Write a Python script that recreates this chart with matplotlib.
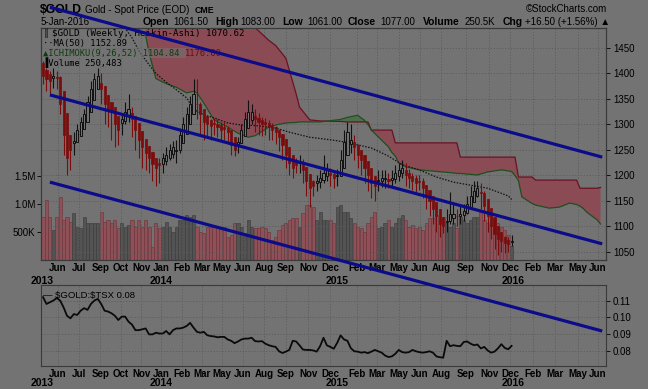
import numpy as np
import matplotlib.pyplot as plt
from matplotlib.lines import Line2D

plt.rcParams['font.family'] = ['Liberation Sans', 'DejaVu Sans']

# weekly Heikin-Ashi bars of $GOLD, week 0 = mid May 2013, week 137 = 5-Jan-2016
ha_open_first = 1420
ha_close = [1395, 1390, 1385, 1395, 1392, 1340, 1280, 1235, 1250, 1268,
            1290, 1305, 1320, 1345, 1370, 1390, 1395, 1370, 1340, 1330,
            1325, 1300, 1290, 1310, 1325, 1330, 1310, 1290, 1270, 1255,
            1245, 1235, 1222, 1215, 1220, 1235, 1240, 1250, 1255, 1250,
            1280, 1300, 1320, 1340, 1360, 1340, 1320, 1305, 1300, 1298,
            1300, 1296, 1290, 1292, 1285, 1260, 1250, 1265, 1290, 1310,
            1325, 1325, 1310, 1305, 1300, 1300, 1295, 1290, 1285, 1275,
            1260, 1240, 1225, 1215, 1220, 1225, 1210, 1190, 1175, 1180,
            1190, 1195, 1205, 1210, 1200, 1195, 1200, 1230, 1265, 1285,
            1270, 1255, 1240, 1230, 1215, 1200, 1185, 1180, 1190, 1195,
            1195, 1190, 1195, 1205, 1210, 1215, 1200, 1195, 1190, 1185,
            1188, 1175, 1160, 1150, 1135, 1120, 1105, 1100, 1110, 1125,
            1125, 1120, 1125, 1130, 1145, 1160, 1170, 1175, 1165, 1140,
            1120, 1100, 1085, 1075, 1072, 1068, 1065, 1070.62]
ha_high = [1425, 1410, 1405, 1410, 1405, 1395, 1360, 1300, 1265, 1285,
           1300, 1315, 1330, 1355, 1385, 1400, 1410, 1400, 1375, 1350,
           1340, 1320, 1305, 1320, 1345, 1360, 1335, 1310, 1295, 1275,
           1260, 1250, 1240, 1230, 1235, 1245, 1255, 1262, 1268, 1270,
           1290, 1315, 1335, 1355, 1390, 1390, 1345, 1325, 1315, 1310,
           1312, 1310, 1305, 1305, 1298, 1290, 1268, 1275, 1300, 1325,
           1348, 1340, 1330, 1322, 1315, 1312, 1308, 1302, 1298, 1292,
           1280, 1262, 1245, 1232, 1235, 1240, 1232, 1215, 1200, 1192,
           1200, 1210, 1240, 1225, 1215, 1208, 1212, 1250, 1290, 1305,
           1300, 1280, 1262, 1250, 1235, 1220, 1205, 1195, 1210, 1210,
           1210, 1205, 1210, 1220, 1225, 1230, 1225, 1212, 1205, 1200,
           1200, 1195, 1182, 1168, 1155, 1140, 1125, 1115, 1135, 1168,
           1145, 1135, 1140, 1145, 1160, 1180, 1190, 1190, 1185, 1170,
           1145, 1122, 1105, 1092, 1088, 1082, 1080, 1083]
ha_low = [1380, 1365, 1360, 1372, 1370, 1320, 1240, 1200, 1211, 1240,
          1265, 1285, 1300, 1320, 1345, 1365, 1375, 1340, 1300, 1295,
          1270, 1255, 1260, 1280, 1300, 1305, 1275, 1250, 1235, 1215,
          1210, 1205, 1190, 1180, 1185, 1205, 1220, 1230, 1235, 1225,
          1245, 1275, 1295, 1318, 1330, 1310, 1280, 1270, 1275, 1270,
          1280, 1275, 1268, 1270, 1262, 1240, 1238, 1245, 1265, 1290,
          1305, 1300, 1285, 1280, 1278, 1280, 1270, 1270, 1262, 1248,
          1230, 1215, 1200, 1195, 1205, 1205, 1185, 1160, 1138, 1160,
          1170, 1175, 1185, 1190, 1180, 1175, 1180, 1200, 1240, 1260,
          1245, 1230, 1215, 1200, 1185, 1170, 1155, 1150, 1170, 1178,
          1175, 1175, 1178, 1185, 1190, 1195, 1180, 1175, 1172, 1168,
          1172, 1155, 1135, 1120, 1105, 1090, 1080, 1087, 1090, 1105,
          1105, 1100, 1105, 1110, 1125, 1140, 1150, 1158, 1135, 1110,
          1090, 1075, 1055, 1045, 1050, 1048, 1050, 1061]
volume_k = [774, 1071, 774, 536, 774, 1131, 714, 774, 685, 833,
            595, 565, 774, 655, 667, 655, 655, 863, 685, 714,
            655, 714, 565, 655, 595, 625, 714, 595, 714, 595,
            714, 595, 238, 655, 565, 595, 685, 595, 506, 595,
            714, 714, 804, 774, 804, 595, 506, 476, 595, 595,
            595, 565, 595, 595, 417, 446, 655, 655, 595, 476,
            714, 595, 565, 565, 595, 565, 506, 357, 417, 536,
            625, 655, 714, 744, 744, 595, 833, 982, 982, 952,
            714, 863, 714, 714, 714, 655, 952, 982, 863, 863,
            744, 655, 595, 565, 506, 655, 774, 863, 565, 595,
            655, 714, 595, 655, 744, 804, 714, 595, 625, 565,
            595, 536, 655, 744, 744, 804, 714, 774, 655, 595,
            655, 565, 774, 714, 655, 714, 774, 774, 863, 714,
            655, 625, 744, 655, 595, 536, 446, 250]

# 50-week moving average (dotted)
ma_wk = [22, 24, 26, 28, 30, 33, 36, 39, 42, 44, 47, 50, 54, 58, 62, 66,
         68, 72, 78, 84, 88, 92, 96, 101, 105, 110, 115, 120, 125, 130,
         136, 137]
ma50 = [1510, 1489, 1470, 1445, 1426, 1400, 1383, 1368, 1352, 1330, 1319,
        1313, 1303, 1299, 1298, 1295, 1293, 1285, 1275, 1270, 1266, 1260,
        1254, 1238, 1221, 1211, 1197, 1187, 1181, 1175, 1160, 1153]

# Ichimoku cloud spans (shifted 26 weeks ahead)
span_wk = [30, 31, 33, 36, 39, 42, 44, 45, 47, 50, 54, 57, 60, 62, 66, 68,
           71, 74, 75, 78, 81, 87, 89, 92, 94, 95, 96, 101, 102, 103, 104,
           106, 110, 120, 121, 122, 127, 130, 134, 137, 138, 139, 140, 143,
           144, 148, 151, 154, 156, 157, 158, 159, 162, 163]
span_a = [1475, 1440, 1390, 1380, 1373, 1362, 1365, 1362, 1342, 1309, 1295,
          1283, 1275, 1278, 1295, 1299, 1303, 1304, 1305, 1305, 1305, 1310,
          1314, 1318, 1308, 1300, 1289, 1256, 1245, 1238, 1225, 1217, 1211,
          1205, 1204, 1204, 1201, 1207, 1211, 1208, 1200, 1190, 1158, 1145,
          1142, 1136, 1138, 1146, 1143, 1140, 1135, 1128, 1113, 1104.84]
span_b = [1500, 1500, 1500, 1500, 1500, 1500, 1500, 1500, 1500, 1500, 1500,
          1500, 1500, 1490, 1465, 1455, 1430, 1360, 1334, 1309, 1307, 1306,
          1305, 1305, 1305, 1305, 1289, 1289, 1289, 1264, 1264, 1264, 1264,
          1264, 1264, 1236, 1236, 1236, 1236, 1236, 1236, 1197, 1197, 1197,
          1191, 1191, 1191, 1191, 1191, 1175, 1175, 1175, 1175, 1176.6]

# $GOLD:$TSX ratio, weekly
ratio = [0.112, 0.108, 0.109, 0.110, 0.1115, 0.110, 0.106, 0.101, 0.0995, 0.102,
         0.1015, 0.104, 0.1055, 0.1045, 0.108, 0.110, 0.111, 0.108, 0.104, 0.1035,
         0.1025, 0.101, 0.0985, 0.1005, 0.1005, 0.0975, 0.0958, 0.0925, 0.0925, 0.093,
         0.0935, 0.090, 0.090, 0.091, 0.0905, 0.0905, 0.092, 0.090, 0.0925, 0.0935,
         0.0935, 0.094, 0.095, 0.0968, 0.094, 0.0915, 0.091, 0.0915, 0.0895, 0.089,
         0.0888, 0.0883, 0.0885, 0.0885, 0.087, 0.0862, 0.0848, 0.0858, 0.087, 0.0875,
         0.0875, 0.088, 0.086, 0.0858, 0.086, 0.0845, 0.0836, 0.083, 0.0826, 0.080,
         0.079, 0.0798, 0.0808, 0.0862, 0.0858, 0.0835, 0.081, 0.0808, 0.0808, 0.0805,
         0.0798, 0.083, 0.088, 0.0835, 0.0826, 0.0815, 0.085, 0.0894, 0.087, 0.0862,
         0.0818, 0.080, 0.0798, 0.0792, 0.0795, 0.0789, 0.0798, 0.0808, 0.080, 0.0792,
         0.0775, 0.0766, 0.077, 0.0785, 0.0808, 0.0795, 0.0792, 0.0795, 0.0808, 0.080,
         0.0795, 0.0792, 0.0795, 0.080, 0.0792, 0.077, 0.0765, 0.0762, 0.0862, 0.083,
         0.0836, 0.0832, 0.083, 0.0855, 0.0858, 0.0845, 0.0836, 0.084, 0.0817, 0.0826,
         0.0805, 0.0792, 0.0798, 0.0817, 0.0842, 0.082, 0.0812, 0.0832]

# hand drawn channel (week, price) end points
trend_wk = [2, 163.5]
trend_upper = [1530, 1236]
trend_middle = [1358, 1066]
trend_lower = [1187, 895]

month_labels = ['Jun', 'Jul', 'Sep', 'Oct', 'Nov', 'Jan', 'Feb', 'Mar', 'May',
                'Jun', 'Aug', 'Sep', 'Nov', 'Dec', 'Feb', 'Mar', 'May', 'Jun',
                'Aug', 'Sep', 'Nov', 'Dec', 'Feb', 'Mar', 'May', 'Jun']
month_wk = [4.4, 10.5, 16.7, 22.8, 28.7, 34.5, 40.6, 46.5, 52.3, 58.5, 64.6,
            71, 77.5, 84, 91.8, 97.7, 104, 110.2, 116.4, 123.7, 130.4, 136.5,
            143.3, 149.7, 156.4, 162.3]
year_labels = ['2013', '2014', '2015', '2016']
year_wk = [-0.3, 34.5, 86, 137.4]

price_ticks = [1050, 1100, 1150, 1200, 1250, 1300, 1350, 1400, 1450]
vol_ticks = [500e3, 1.0e6, 1.5e6]
vol_labels = ['500K', '1.0M', '1.5M']
ratio_ticks = [0.08, 0.09, 0.10, 0.11]
ratio_labels = ['0.08', '0.09', '0.10', '0.11']

quote = ['Open', '1061.50', 'High', '1083.00', 'Low', '1061.00', 'Close',
         '1077.00', 'Volume', '250.5K', 'Chg', '+16.50 (+1.56%) \u25b2']
quote_x = [143, 173, 215, 240, 282, 307, 348, 380, 423, 465, 503, 525]

# colours (dimmed StockCharts look)
BG = '#737373'
GRID = '#5c5c5c'
RED = '#7a0c0c'
VOL_RED = '#8f5157'
VOL_GRAY = '#535353'
CLOUD = '#8a4b55'
CLOUD_G = '#4d6e4d'
SPAN_A = '#1d501d'
SPAN_B = '#6b1222'
BLUE = '#0c0c8a'

c = np.array(ha_close, float)
o = np.empty_like(c)
o[0] = ha_open_first
for i in range(1, len(c)):
    o[i] = (o[i - 1] + c[i - 1]) / 2
hi = np.maximum(np.array(ha_high, float), np.maximum(o, c))
lo = np.minimum(np.array(ha_low, float), np.minimum(o, c))
wk = np.arange(len(c))
up = c >= o

W, H = 648, 389
fig = plt.figure(figsize=(W / 100, H / 100), dpi=100, facecolor=BG)


def box(l, t, r, b):
    return [l / W, 1 - b / H, (r - l) / W, (b - t) / H]


xlim = (-0.6, 164.6)

# lower panel first so the channel lines can cross over it
ax2 = fig.add_axes(box(41, 285, 606, 366), facecolor=BG)
# main panel: volume axis behind, price axis on top
axv = fig.add_axes(box(41, 28, 606, 260), facecolor=BG)
axp = axv.twinx()
axp.patch.set_visible(False)

# volume
axv.bar(wk, np.array(volume_k) * 1e3, width=0.92,
        color=np.where(up, VOL_GRAY, VOL_RED),
        edgecolor=np.where(up, '#3a3a3a', '#6e3038'), linewidth=0.4)
axv.set_ylim(0, 4143e3)
axv.set_xlim(*xlim)
axv.set_yticks(vol_ticks)
axv.set_yticklabels(vol_labels)
axv.tick_params(axis='y', left=True, labelleft=True, length=3, pad=1,
                labelsize=7, width=0.6)

# grid
axp.set_xlim(*xlim)
axp.set_ylim(1034.3, 1489.2)
for t in price_ticks:
    axp.axhline(t, color=GRID, lw=0.6, ls=(0, (1.5, 2)), zorder=0.5)
for t in month_wk:
    axp.axvline(t, color=GRID, lw=0.6, ls=(0, (1.5, 2)), zorder=0.5)

# ichimoku cloud
sw = np.array(span_wk, float)
sa = np.array(span_a, float)
sb = np.array(span_b, float)
axp.fill_between(sw, sa, sb, where=sb >= sa, interpolate=True,
                 color=CLOUD, lw=0, zorder=1)
axp.fill_between(sw, sa, sb, where=sa > sb, interpolate=True,
                 color=CLOUD_G, lw=0, zorder=1)
axp.plot(sw, sb, color=SPAN_B, lw=0.9, zorder=1.2)
axp.plot(sw, sa, color=SPAN_A, lw=0.9, zorder=1.2)

# moving average
axp.plot(ma_wk, ma50, color='#111111', lw=0.9, ls=(0, (1.2, 1.2)), zorder=2)

# heikin-ashi candles
axp.vlines(wk, lo, hi, colors=np.where(up, '#111111', RED), lw=0.8, zorder=3)
body_lo = np.minimum(o, c)
body_h = np.maximum(np.abs(c - o), 0.8)
axp.bar(wk[up], body_h[up], bottom=body_lo[up], width=0.62,
        color=BG, edgecolor='#111111', linewidth=0.7, zorder=4)
axp.bar(wk[~up], body_h[~up], bottom=body_lo[~up], width=0.62,
        color=RED, edgecolor=RED, linewidth=0.5, zorder=4)

axp.set_yticks(price_ticks)
axp.tick_params(axis='y', right=True, labelright=True, length=3, pad=2,
                labelsize=7, width=0.6)

for a in (axv, axp, ax2):
    a.set_xticks(month_wk)
    a.set_xticklabels(month_labels, fontsize=7, fontweight='bold')
    a.tick_params(axis='x', length=0, pad=2)
    for s in a.spines.values():
        s.set_color('#3a3a3a')
        s.set_linewidth(0.8)
axp.tick_params(axis='x', labelbottom=False)

for lab, w in zip(year_labels, year_wk):
    axv.text(w, -16 / 232, lab, transform=axv.get_xaxis_transform(),
             ha='center', va='top', fontsize=7.5, fontweight='bold')
    ax2.text(w, -12 / 81, lab, transform=ax2.get_xaxis_transform(),
             ha='center', va='top', fontsize=7.5, fontweight='bold')

# lower panel: ratio
ax2.plot(wk, ratio, color='#0a0a0a', lw=1.3)
ax2.set_xlim(*xlim)
ax2.set_ylim(0.0713, 0.1192)
ax2.yaxis.tick_right()
ax2.set_yticks(ratio_ticks)
ax2.set_yticklabels(ratio_labels)
ax2.tick_params(axis='y', length=3, pad=2, labelsize=7, width=0.6)
for t in ratio_ticks:
    ax2.axhline(t, color=GRID, lw=0.6, ls=(0, (1.5, 2)), zorder=0.5)
for t in month_wk:
    ax2.axvline(t, color=GRID, lw=0.6, ls=(0, (1.5, 2)), zorder=0.5)
ax2.text(0.004, 0.93, '\u2014 \\$GOLD:\\$TSX 0.08', transform=ax2.transAxes,
         fontsize=6.8, va='top', ha='left')

# legend in main panel
mono = 'DejaVu Sans Mono'
axp.text(0.004, 0.978, '\u2551', transform=axp.transAxes, fontsize=6,
         family=mono, va='center', zorder=10)
axp.text(0.02, 0.978, '$GOLD (Weekly, Heikin-Ashi) 1070.62',
         transform=axp.transAxes, fontsize=6.6, family=mono, va='center',
         ha='left', zorder=10)
axp.text(0.004, 0.935, '\u00b7\u00b7MA(50) 1152.89', transform=axp.transAxes,
         fontsize=6.3, family=mono, va='center', zorder=10)
t1 = axp.text(0.004, 0.892, '\u25b2ICHIMOKU(9,26,52) 1104.84 ',
              transform=axp.transAxes, fontsize=6.3, family=mono,
              color='#0d3d0d', va='center', zorder=10,
              bbox=dict(boxstyle='square,pad=0.1', fc=BG, ec='none', alpha=0.6))
axp.annotate('1176.60', xycoords=t1, xy=(1, 0.5), va='center', ha='left',
             fontsize=6.3, family=mono, color='#6a0c0c', zorder=10)
axp.text(0.004, 0.85, '\u2590Volume 250,483', transform=axp.transAxes,
         fontsize=6.3, family=mono, va='center', zorder=10)

# header
fig.text(40 / W, 1 - 10 / H, '$GOLD', fontsize=8.8, fontweight='bold',
         va='center', ha='left')
fig.text(85 / W, 1 - 10 / H, 'Gold - Spot Price (EOD)', fontsize=7,
         va='center', ha='left')
fig.text(195 / W, 1 - 10.5 / H, 'CME', fontsize=6.3, fontweight='bold',
         va='center', ha='left')
fig.text(41 / W, 1 - 22 / H, '5-Jan-2016', fontsize=7, va='center', ha='left')
fig.text(607 / W, 1 - 9 / H, '\u00a9StockCharts.com', fontsize=7,
         va='center', ha='right')
for k, (txt, px) in enumerate(zip(quote, quote_x)):
    bold = k % 2 == 0
    fig.text(px / W, 1 - 25 / H, txt, ha='left', va='baseline',
             fontsize=7.5 if bold else 7,
             fontweight='bold' if bold else 'normal')

# channel lines drawn across both panels
for prices in (trend_upper, trend_middle, trend_lower):
    fig.add_artist(Line2D(trend_wk, prices, transform=axp.transData,
                          color=BLUE, lw=2.3, zorder=20, clip_on=False,
                          solid_capstyle='butt'))

fig.savefig('out.png', dpi=100, facecolor=BG)
